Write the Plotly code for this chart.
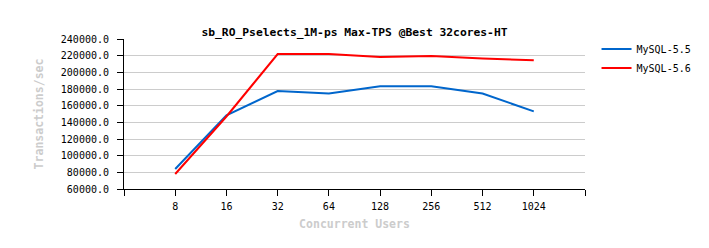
import plotly.graph_objects as go

users = ["8", "16", "32", "64", "128", "256", "512", "1024"]
mysql55 = [84000, 148500, 177500, 174500, 183200, 183200, 174500, 153200]
mysql56 = [78000, 147000, 222000, 222000, 218500, 219600, 216500, 214400]
yticks = list(range(60000, 240001, 20000))

FONT = "DejaVu Sans Mono"
pos = list(range(len(users)))

fig = go.Figure()
fig.add_trace(go.Scatter(x=pos, y=mysql55, mode="lines", name="MySQL-5.5",
                         line=dict(color="#0066cc", width=2)))
fig.add_trace(go.Scatter(x=pos, y=mysql56, mode="lines", name="MySQL-5.6",
                         line=dict(color="#ff0000", width=2)))

fig.update_layout(
    width=709, height=248,
    margin=dict(l=124, r=124, t=39, b=59, autoexpand=False),
    paper_bgcolor="white", plot_bgcolor="white",
    font=dict(family=FONT, size=10, color="black"),
    title=dict(text="<b>sb_RO_Pselects_1M-ps Max-TPS @Best 32cores-HT</b>",
               x=0.5, xref="paper", y=1, yref="paper", yanchor="bottom",
               pad=dict(b=3), font=dict(family=FONT, size=11.3, color="black")),
    showlegend=True,
    legend=dict(x=1.025, y=1.03, xanchor="left", yanchor="top",
                font=dict(family=FONT, size=10, color="black"),
                tracegroupgap=0, itemwidth=30, bgcolor="rgba(0,0,0,0)"),
    xaxis=dict(range=[-1, len(users)], tickmode="array",
               tickvals=[-1] + pos + [len(users)],
               ticktext=[""] + users + [""],
               showgrid=False, zeroline=False, showline=True, linecolor="black",
               linewidth=1, ticks="outside", ticklen=6, tickcolor="black",
               ticklabelstandoff=2,
               title=dict(text="<b>Concurrent Users</b>", standoff=8,
                          font=dict(family=FONT, size=11.5, color="#cccccc"))),
    yaxis=dict(range=[60000, 240000], tickmode="array", tickvals=yticks,
               ticktext=[f"{v:.1f}" for v in yticks],
               showgrid=True, gridcolor="#cccccc", gridwidth=1, zeroline=False,
               showline=True, linecolor="black", linewidth=1,
               ticks="outside", ticklen=6, tickcolor="black",
               ticklabelstandoff=6,
               title=dict(text="<b>Transactions/sec</b>", standoff=14,
                          font=dict(family=FONT, size=11.5, color="#cccccc"))),
)

fig.write_html("out.html")
